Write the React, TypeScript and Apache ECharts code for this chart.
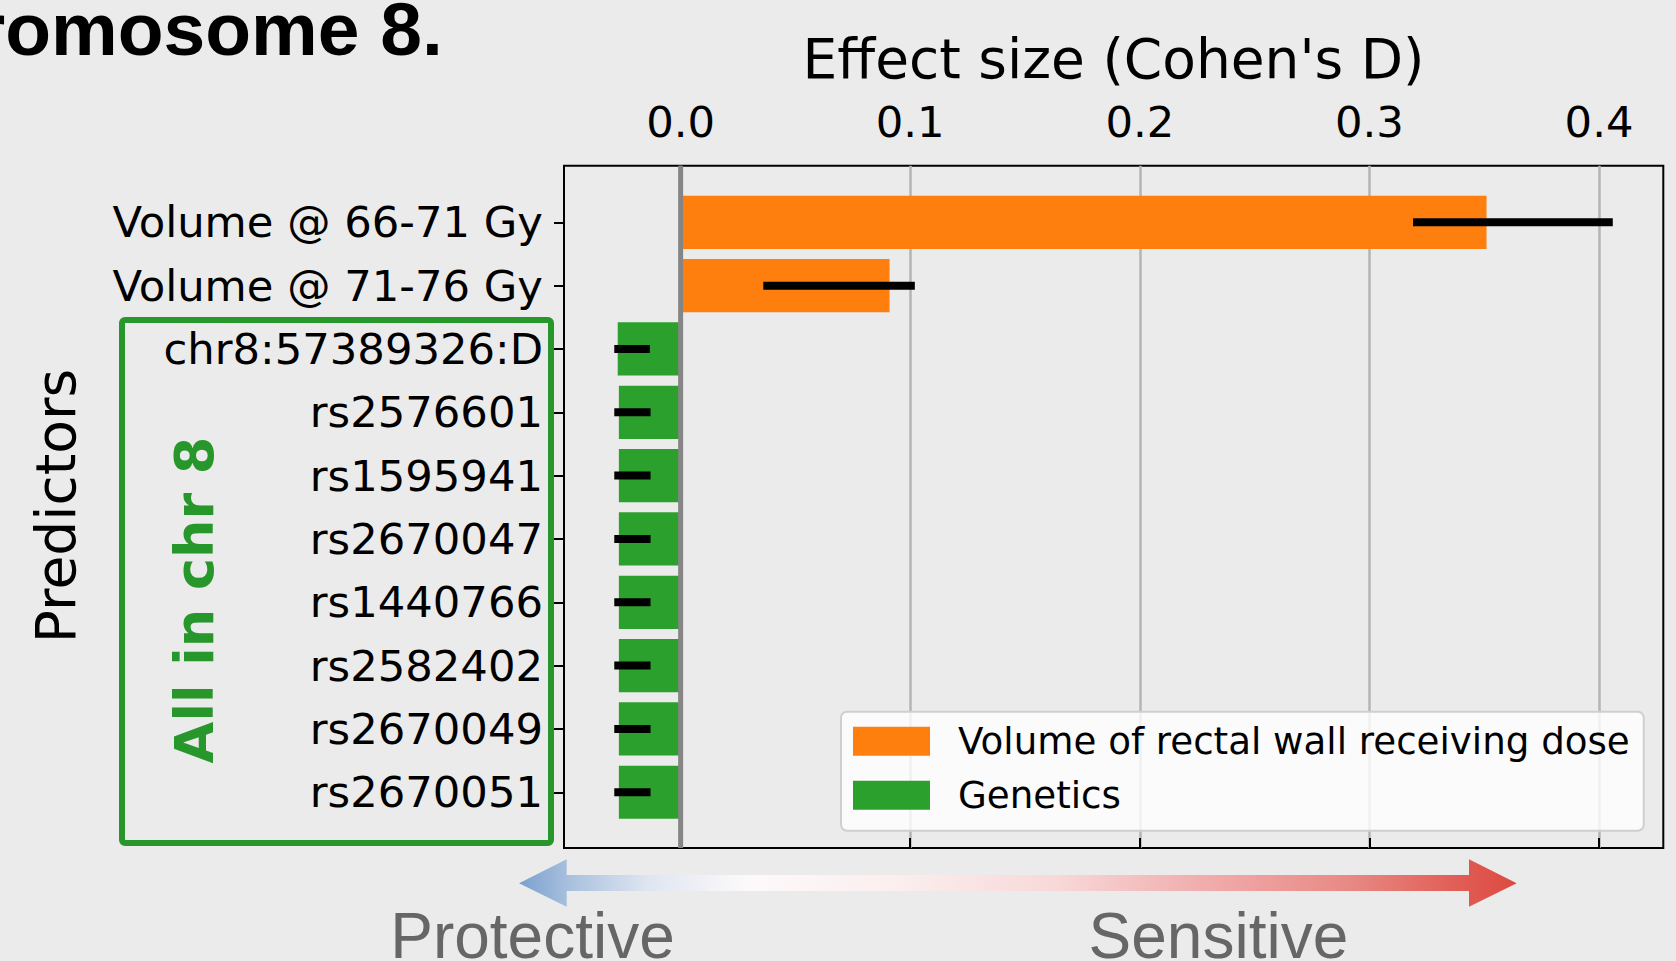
import React, { useEffect, useRef } from "react";
import * as echarts from "echarts";

// ---------- data ----------
const categories = [
  "Volume @ 66-71 Gy",
  "Volume @ 71-76 Gy",
  "chr8:57389326:D",
  "rs2576601",
  "rs1595941",
  "rs2670047",
  "rs1440766",
  "rs2582402",
  "rs2670049",
  "rs2670051",
];
const doseName = "Volume of rectal wall receiving dose";
const geneticsName = "Genetics";
const doseValues = [0.351, 0.091, null, null, null, null, null, null, null, null];
const geneticsValues = [null, null, -0.0274, -0.0269, -0.0269, -0.0269, -0.0269, -0.0269, -0.0269, -0.0269];
const errLow = [0.319, 0.036, -0.0289, -0.0289, -0.0289, -0.0289, -0.0289, -0.0289, -0.0289, -0.0289];
const errHigh = [0.406, 0.102, -0.0134, -0.0131, -0.0131, -0.0131, -0.0131, -0.0131, -0.0131, -0.0131];
const xTicks = [0, 0.1, 0.2, 0.3, 0.4];
const xMin = -0.0508;
const xMax = 0.428;

const TICK_FONT = "DejaVu Sans";

export default function App() {
  const ref = useRef<HTMLDivElement>(null);

  useEffect(() => {
    if (!ref.current) return;
    const chart = echarts.init(ref.current, null, { renderer: "svg" });

    const gridLeft = 564;
    const gridWidth = 1099.3;
    const frameTop = 165.7;
    const frameHeight = 682.3;
    const rowPitch = 63.33;
    const firstRow = 222.3;

    const arrowGradient = new echarts.graphic.LinearGradient(0, 0, 1, 0, [
      { offset: 0, color: "#7aa0cd" },
      { offset: 0.05, color: "#a8c0de" },
      { offset: 0.13, color: "#dfe6f1" },
      { offset: 0.23, color: "#fdf9fa" },
      { offset: 0.38, color: "#fbeeee" },
      { offset: 0.54, color: "#f8d8d8" },
      { offset: 0.68, color: "#f1aeae" },
      { offset: 0.83, color: "#e88a85" },
      { offset: 0.95, color: "#e05a52" },
      { offset: 1, color: "#dc4a41" },
    ]);

    const option: any = {
      animation: false,
      backgroundColor: "#ebebeb",
      grid: [
        {
          left: gridLeft,
          top: frameTop,
          width: gridWidth,
          height: frameHeight,
          show: true,
          borderColor: "#000",
          borderWidth: 2,
          backgroundColor: "transparent",
        },
        {
          left: gridLeft,
          top: firstRow - rowPitch / 2,
          width: gridWidth,
          height: rowPitch * categories.length,
          show: false,
        },
      ],
      xAxis: [
        {
          gridIndex: 0,
          type: "value",
          position: "top",
          min: xMin,
          max: xMax,
          axisLine: { show: false },
          axisTick: {
            show: true,
            inside: false,
            length: 10,
            lineStyle: { color: "#000", width: 2 },
            customValues: xTicks,
          },
          axisLabel: {
            show: true,
            customValues: xTicks,
            formatter: (v: number) => v.toFixed(1),
            fontFamily: TICK_FONT,
            fontSize: 43.3,
            color: "#000",
            margin: 22,
          },
          splitLine: { show: true, lineStyle: { color: "#b4b4b4", width: 2.5 } },
        },
        {
          gridIndex: 1,
          type: "value",
          min: xMin,
          max: xMax,
          show: false,
        },
      ],
      yAxis: [
        { gridIndex: 0, type: "value", min: 0, max: 1, show: false },
        {
          gridIndex: 1,
          type: "category",
          inverse: true,
          position: "left",
          data: categories,
          axisLine: { show: false, onZero: false },
          axisTick: {
            show: true,
            alignWithLabel: true,
            length: 10,
            lineStyle: { color: "#000", width: 2 },
          },
          axisLabel: {
            fontFamily: TICK_FONT,
            fontSize: 43.3,
            color: "#000",
            margin: 21,
          },
          splitLine: { show: false },
        },
      ],
      legend: {
        orient: "vertical",
        left: 841,
        top: 711.7,
        data: [doseName, geneticsName],
        icon: "rect",
        itemWidth: 77,
        itemHeight: 29,
        itemGap: 17,
        padding: [11, 14, 17, 12],
        backgroundColor: "rgba(255,255,255,0.8)",
        borderColor: "#cfcfcf",
        borderWidth: 2,
        borderRadius: 6,
        textStyle: {
          fontFamily: TICK_FONT,
          fontSize: 37.2,
          lineHeight: 37,
          color: "#000",
          padding: [0, 0, 0, 23],
        },
      },
      series: [
        {
          name: doseName,
          type: "bar",
          xAxisIndex: 1,
          yAxisIndex: 1,
          data: doseValues.map((v) => (v === null ? "-" : v)),
          barWidth: "84%",
          barGap: "-100%",
          itemStyle: { color: "#ff7f0e" },
          z: 2,
        },
        {
          name: geneticsName,
          type: "bar",
          xAxisIndex: 1,
          yAxisIndex: 1,
          data: geneticsValues.map((v) => (v === null ? "-" : v)),
          barWidth: "84%",
          barGap: "-100%",
          itemStyle: { color: "#2ca02c" },
          z: 2,
        },
        {
          name: "zero",
          type: "custom",
          xAxisIndex: 0,
          yAxisIndex: 0,
          data: [[0, 0]],
          z: 3,
          silent: true,
          renderItem: (params: any, api: any) => {
            const p = api.coord([api.value(0), 0]);
            const cs = params.coordSys;
            return {
              type: "line",
              shape: { x1: p[0], y1: cs.y, x2: p[0], y2: cs.y + cs.height },
              style: { stroke: "#858585", lineWidth: 5 },
            };
          },
        },
        {
          name: "error",
          type: "custom",
          xAxisIndex: 1,
          yAxisIndex: 1,
          data: categories.map((_, i) => [errLow[i], errHigh[i], i]),
          encode: { x: [0, 1], y: 2 },
          z: 4,
          silent: true,
          renderItem: (params: any, api: any) => {
            const lo = api.coord([api.value(0), api.value(2)]);
            const hi = api.coord([api.value(1), api.value(2)]);
            return {
              type: "rect",
              shape: { x: lo[0], y: lo[1] - 4, width: hi[0] - lo[0], height: 8 },
              style: { fill: "#000" },
            };
          },
        },
      ],
      graphic: [
        {
          type: "text",
          x: -24,
          y: 29,
          style: {
            text: "romosome 8.",
            fontFamily: "Liberation Sans",
            fontWeight: "bold",
            fontSize: 75,
            fill: "#000",
            textAlign: "left",
            align: "left",
            textVerticalAlign: "middle",
            verticalAlign: "middle",
          },
        },
        {
          type: "text",
          x: 1113.5,
          y: 58.5,
          style: {
            text: "Effect size (Cohen's D)",
            fontFamily: TICK_FONT,
            fontSize: 55,
            fill: "#000",
            textAlign: "center",
            align: "center",
            textVerticalAlign: "middle",
            verticalAlign: "middle",
          },
        },
        {
          type: "text",
          x: 56,
          y: 506,
          rotation: Math.PI / 2,
          style: {
            text: "Predictors",
            fontFamily: TICK_FONT,
            fontSize: 55,
            fill: "#000",
            textAlign: "center",
            align: "center",
            textVerticalAlign: "middle",
            verticalAlign: "middle",
          },
        },
        {
          type: "rect",
          shape: { x: 122, y: 320, width: 429, height: 523, r: 3 },
          style: { fill: "none", stroke: "#27962b", lineWidth: 6 },
          z: 10,
        },
        {
          type: "text",
          x: 194,
          y: 600,
          rotation: Math.PI / 2,
          style: {
            text: "All in chr 8",
            fontFamily: TICK_FONT,
            fontWeight: "bold",
            fontSize: 54,
            fill: "#27962b",
            textAlign: "center",
            align: "center",
            textVerticalAlign: "middle",
            verticalAlign: "middle",
          },
        },
        {
          type: "polygon",
          shape: {
            points: [
              [519, 883.3],
              [566.7, 859.3],
              [566.7, 875],
              [1469, 875],
              [1469, 859.3],
              [1516.7, 883.3],
              [1469, 906.7],
              [1469, 891],
              [566.7, 891],
              [566.7, 906.7],
            ],
          },
          style: { fill: arrowGradient },
        },
        {
          type: "text",
          x: 532.5,
          y: 935.5,
          style: {
            text: "Protective",
            fontFamily: "Liberation Sans",
            fontSize: 64,
            fill: "#666666",
            textAlign: "center",
            align: "center",
            textVerticalAlign: "middle",
            verticalAlign: "middle",
          },
        },
        {
          type: "text",
          x: 1218.4,
          y: 935.5,
          style: {
            text: "Sensitive",
            fontFamily: "Liberation Sans",
            fontSize: 64,
            fill: "#666666",
            textAlign: "center",
            align: "center",
            textVerticalAlign: "middle",
            verticalAlign: "middle",
          },
        },
      ],
    };

    chart.setOption(option);
    return () => {
      chart.dispose();
    };
  }, []);

  return (
    <div
      ref={ref}
      style={{ position: "fixed", left: 0, top: 0, width: 1676, height: 961 }}
    />
  );
}
